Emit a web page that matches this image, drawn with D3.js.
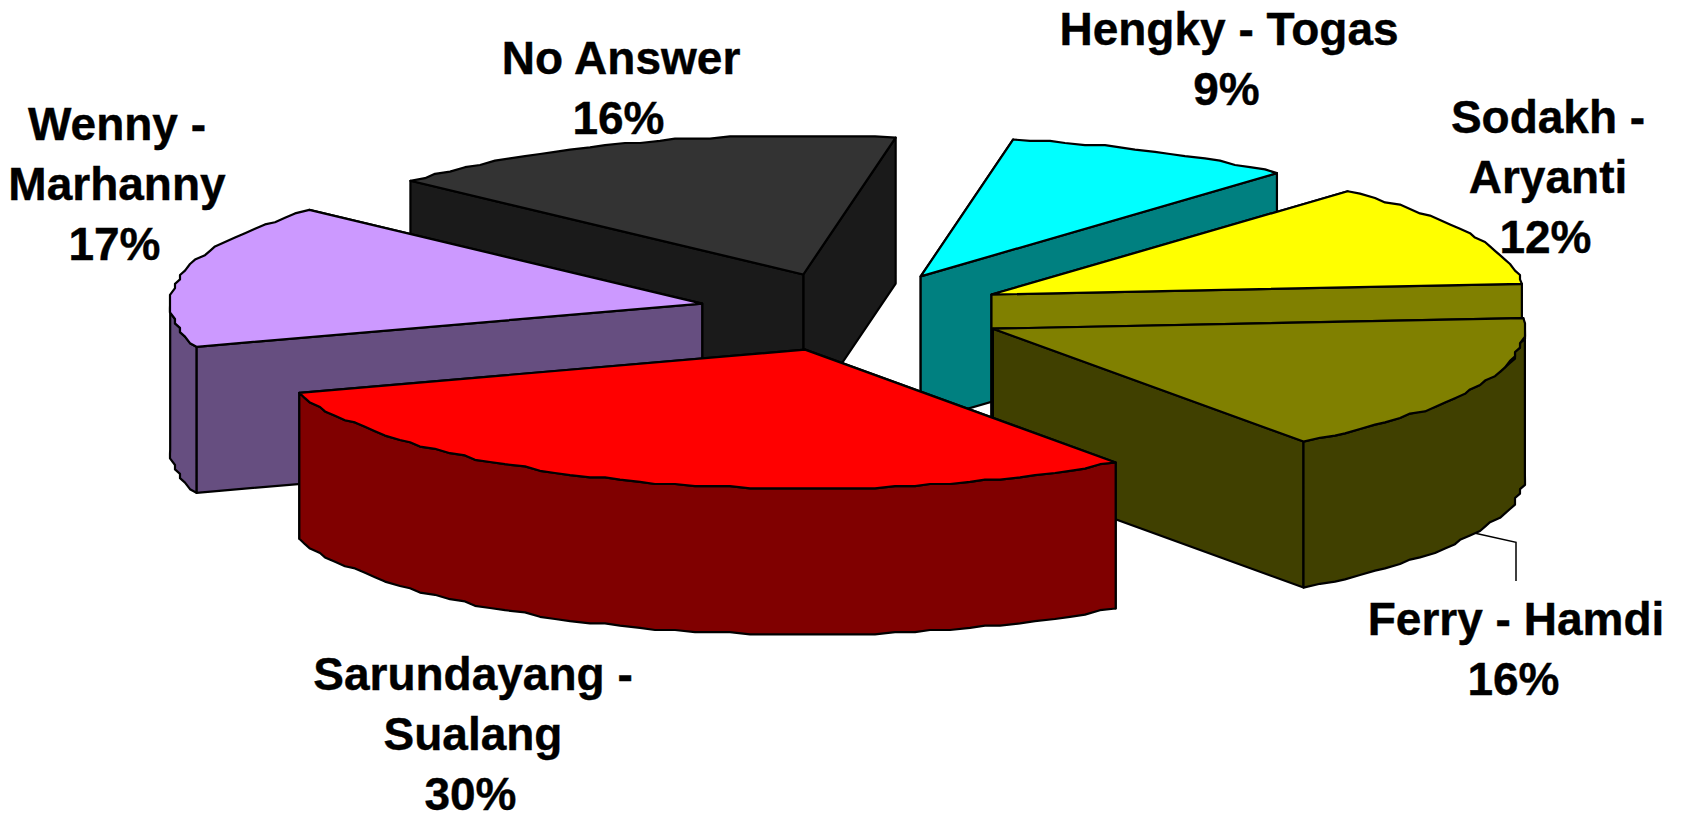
<!DOCTYPE html>
<html>
<head>
<meta charset="utf-8">
<script src="https://cdn.jsdelivr.net/npm/d3@7"></script>
<style>
	html, body { margin: 0; padding: 0; background: #fff; }
	svg { display: block; }
	text { font-family: "Liberation Sans", Arial, sans-serif; font-weight: bold; fill: #000; stroke: #000; stroke-width: 0.4px; }
</style>
</head>
<body>
<svg id="chart" width="1681" height="814"></svg>
<script>
//Chart values, clockwise from the first slice. Labels show them rounded.
var names = [["Hengky - Togas"], ["Sodakh -", "Aryanti"], ["Ferry - Hamdi"], ["Sarundayang -", "Sualang"], ["Wenny -", "Marhanny"], ["No Answer"]];
var values = [8.9, 12.1, 16.3, 29.9, 16.8, 16];

//Slice colours.
var topColors = ["#00ffff", "#ffff00", "#808000", "#ff0000", "#cc99ff", "#333333"];
var sideColors = ["#008080", "#808000", "#404000", "#800000", "#664e80", "#1a1a1a"];

//Label anchors: centre x and first baseline.
var labelX = [1229, 1548, 1516, 473, 117, 621];
var labelY = [45, 133, 635, 690, 140, 74];

var width = 1681, height = 814;
var cx = 853, cy = 312, rx = 532, ry = 139, depth = 146;
var explodeX = 0.29, explodeY = 0.285;
var firstAngle = 10 * Math.PI / 180;
var lineHeight = 60;

var svg = d3.select("#chart");

var xScale = d3.scaleLinear().domain([-1, 1]).range([cx - rx, cx + rx]);
var yScale = d3.scaleLinear().domain([-1, 1]).range([cy - ry, cy + ry]);

var pie = d3.pie().sort(null).value(function(d){ return d; })
	.startAngle(firstAngle).endAngle(firstAngle + 2 * Math.PI);

var slices = pie(values).map(function(d, i){
	var mid = (d.startAngle + d.endAngle) / 2;
	return {
		index: i,
		start: d.startAngle,
		end: d.endAngle,
		mid: mid,
		ox: explodeX * Math.sin(mid),
		oy: -explodeY * Math.cos(mid)
	};
});

//Point of a slice on the pie plane: r is 0 at the apex and 1 on the rim.
function point(s, angle, r, drop){
	return [xScale(s.ox + r * Math.sin(angle)), yScale(s.oy - r * Math.cos(angle)) + (drop || 0)];
}

//Rim points with the stepped look of the original, corners stay exact.
function rimPoints(s, from, to, drop){
	var n = Math.max(2, Math.round((to - from) / (2 * Math.PI / 180)));
	return d3.range(n + 1).map(function(k){
		var p = point(s, from + (to - from) * k / n, 1, 0);
		if(k > 0 && k < n){
			p = [Math.round(p[0] / 5) * 5, Math.round(p[1] / 2.2) * 2.2];
		}
		return [p[0], p[1] + (drop || 0)];
	});
}

var line = d3.line();

function closed(points){
	return line(points) + "Z";
}

//Leader line of the Ferry - Hamdi label, under the slices.
var ferry = slices[2];
var leaderStart = point(ferry, ferry.mid, 1, depth);
svg.append("path")
	.attr("d", line([leaderStart, [labelX[2], leaderStart[1] + 9], [labelX[2], labelY[2] - 54]]))
	.attr("fill", "none")
	.attr("stroke", "#000")
	.attr("stroke-width", 1.5);

//Back slices first, so the front ones cover them.
var ordered = slices.slice().sort(function(a, b){
	return Math.cos(b.mid) - Math.cos(a.mid);
});

var groups = svg.selectAll("g.slice")
	.data(ordered)
	.enter()
	.append("g")
	.attr("class", "slice")
	.attr("stroke", "#000")
	.attr("stroke-width", 2.2)
	.attr("stroke-linejoin", "round");

groups.each(function(s){
	var g = d3.select(this);
	var apex = point(s, 0, 0);
	var apexLow = point(s, 0, 0, depth);

	//Cut faces, the one further back first.
	var faces = [s.start, s.end].sort(function(a, b){
		return Math.cos(b) - Math.cos(a);
	});
	faces.forEach(function(angle){
		g.append("path")
			.attr("d", closed([apex, point(s, angle, 1), point(s, angle, 1, depth), apexLow]))
			.attr("fill", sideColors[s.index]);
	});

	//Outer wall, only the part on the front half of the ellipse.
	var from = Math.max(s.start, Math.PI / 2);
	var to = Math.min(s.end, 3 * Math.PI / 2);
	if(to > from){
		g.append("path")
			.attr("d", closed(rimPoints(s, from, to).concat(rimPoints(s, from, to, depth).reverse())))
			.attr("fill", sideColors[s.index]);
	}

	//Top face.
	g.append("path")
		.attr("d", closed([apex].concat(rimPoints(s, s.start, s.end))))
		.attr("fill", topColors[s.index]);
});

//Labels: name lines, then the percentage.
var labels = svg.selectAll("text.label")
	.data(slices)
	.enter()
	.append("text")
	.attr("class", "label")
	.attr("text-anchor", "middle")
	.attr("font-size", 46);

labels.each(function(s){
	var nameLines = names[s.index];
	var lines = nameLines.concat([Math.round(values[s.index]) + "%"]);
	d3.select(this).selectAll("tspan")
		.data(lines)
		.enter()
		.append("tspan")
		.attr("x", function(d, i){ return labelX[s.index] - (i === nameLines.length ? 2.5 : 0); })
		.attr("y", function(d, i){ return labelY[s.index] + i * lineHeight; })
		.text(function(d){ return d; });
});
</script>
</body>
</html>
